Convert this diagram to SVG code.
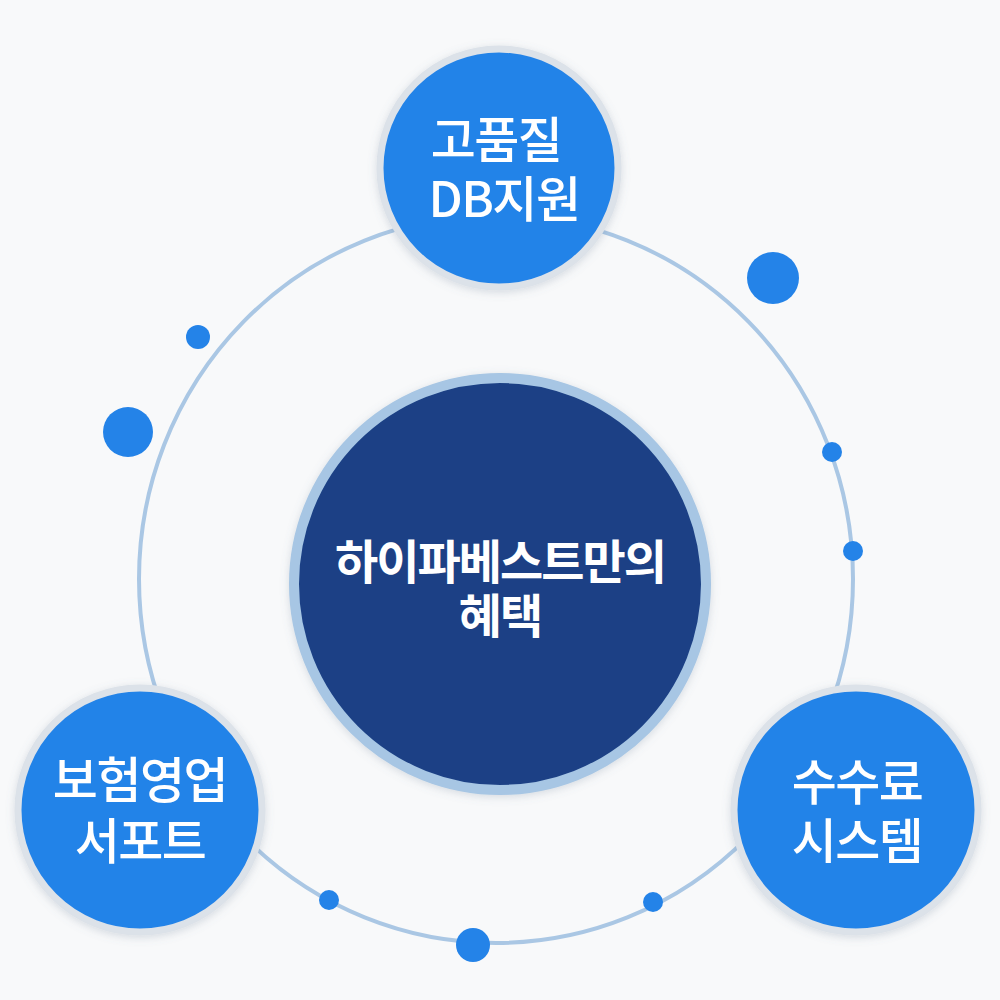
<svg xmlns="http://www.w3.org/2000/svg" width="1000" height="1000" viewBox="0 0 1000 1000">
  <defs>
    <filter id="sh" x="-20%" y="-20%" width="140%" height="140%">
      <feDropShadow dx="0" dy="2" stdDeviation="4" flood-color="#6a7d95" flood-opacity="0.25"/>
    </filter>
    <style>
      .node { fill: #2483e8; stroke: #dce2e9; stroke-width: 7; filter: url(#sh); }
      .dot { fill: #2483e8; }
      .lbl { font-family: "Noto Sans CJK KR", "Noto Sans", sans-serif; font-size: 49px; font-weight: 500; fill: #ffffff; text-anchor: middle; letter-spacing: -1.5px; }
      .ctr { font-family: "Noto Sans CJK KR", "Noto Sans", sans-serif; font-size: 47px; font-weight: bold; fill: #ffffff; text-anchor: middle; letter-spacing: -2px; }
    </style>
  </defs>
  <rect width="1000" height="1000" fill="#f8f9fa"/>
  <g id="connectors">
    <ellipse cx="496" cy="579" rx="357" ry="364" fill="none" stroke="#aac7e4" stroke-width="4"/>
  </g>
  <g id="dots">
    <circle class="dot" cx="773" cy="278" r="26"/>
    <circle class="dot" cx="198" cy="337" r="12"/>
    <circle class="dot" cx="128" cy="432" r="25"/>
    <circle class="dot" cx="832" cy="452" r="10"/>
    <circle class="dot" cx="853" cy="551" r="10"/>
    <circle class="dot" cx="329" cy="900" r="10"/>
    <circle class="dot" cx="473" cy="945" r="17"/>
    <circle class="dot" cx="653" cy="902" r="10"/>
  </g>
  <g id="center">
    <circle cx="500" cy="584" r="206" fill="#1c4185" stroke="#a7c6e4" stroke-width="10" filter="url(#sh)"/>
    <text class="ctr" x="500" y="579">하이파베스트만의</text>
    <text class="ctr" x="500" y="633">혜택</text>
  </g>
  <g id="node-top">
    <circle class="node" cx="499" cy="168" r="119"/>
    <text class="lbl" x="496" y="158">고품질</text>
    <text class="lbl" x="504" y="217">DB지원</text>
  </g>
  <g id="node-left">
    <circle class="node" cx="140" cy="810" r="122"/>
    <text class="lbl" x="140" y="798">보험영업</text>
    <text class="lbl" x="140" y="859">서포트</text>
  </g>
  <g id="node-right">
    <circle class="node" cx="856" cy="810" r="122"/>
    <text class="lbl" x="857" y="800">수수료</text>
    <text class="lbl" x="857" y="859">시스템</text>
  </g>
</svg>
